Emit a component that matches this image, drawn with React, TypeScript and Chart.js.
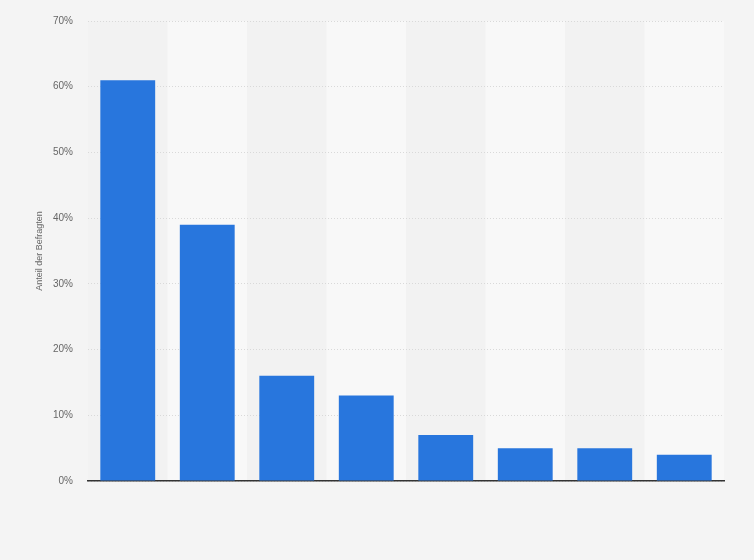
import React, { useEffect, useRef } from 'react';
import { Chart, registerables } from 'chart.js';

Chart.register(...registerables);

const categories = ['1', '2', '3', '4', '5', '6', '7', '8'];
const shares = [61, 39, 16, 13, 7, 5, 5, 4];
const yTicks = [0, 10, 20, 30, 40, 50, 60, 70];

const bandPlugin = {
  id: 'bands',
  beforeDraw(chart: any) {
    const { ctx, chartArea, scales } = chart;
    const x = scales.x;
    const step = (chartArea.right - chartArea.left) / categories.length;
    ctx.save();
    categories.forEach((_, i) => {
      ctx.fillStyle = i % 2 === 0 ? '#f2f2f2' : '#f8f8f8';
      const left = x.getPixelForValue(i) - step / 2;
      ctx.fillRect(left, chartArea.top, step, chartArea.bottom - chartArea.top);
    });
    ctx.restore();
  },
};

const App: React.FC = () => {
  const chartRef = useRef<HTMLCanvasElement>(null);
  const chartInstance = useRef<Chart>();

  useEffect(() => {
    document.body.style.margin = '0';
    document.body.style.background = '#f4f4f4';
    if (chartRef.current) {
      chartInstance.current = new Chart(chartRef.current, {
        type: 'bar',
        data: {
          labels: categories,
          datasets: [
            {
              data: shares,
              backgroundColor: '#2876dd',
              barPercentage: 0.69,
              categoryPercentage: 1,
            },
          ],
        },
        options: {
          animation: false,
          responsive: false,
          layout: { padding: { top: 20, right: 30, bottom: 79, left: 34 } },
          plugins: {
            legend: { display: false },
            tooltip: { enabled: false },
          },
          scales: {
            x: {
              ticks: { display: false },
              grid: { display: false, drawTicks: false },
              border: { display: true, color: '#333333', width: 1.5 },
              afterFit: (s: any) => {
                s.height = 0;
              },
            },
            y: {
              min: 0,
              max: 70,
              afterBuildTicks: (s: any) => {
                s.ticks = yTicks.map((v) => ({ value: v }));
              },
              ticks: {
                padding: 15,
                color: '#666666',
                font: { family: 'Liberation Sans, Arial, sans-serif', size: 10 },
                callback: (v: any) => v + '%',
              },
              grid: { color: '#d9d9d9', drawTicks: false },
              border: { display: false, dash: [1, 2] },
              title: {
                display: true,
                text: 'Anteil der Befragten',
                color: '#666666',
                font: { family: 'Liberation Sans, Arial, sans-serif', size: 9 },
                padding: { top: 0, bottom: 0 },
              },
              afterFit: (s: any) => {
                s.width = 54;
              },
            },
          },
        },
        plugins: [bandPlugin],
      });
    }
    return () => {
      if (chartInstance.current) {
        chartInstance.current.destroy();
      }
    };
  }, []);

  return (
    <div style={{ width: 754, height: 560, background: '#f4f4f4' }}>
      <canvas ref={chartRef} width={754} height={560} style={{ width: 754, height: 560 }} />
    </div>
  );
};

export default App;
